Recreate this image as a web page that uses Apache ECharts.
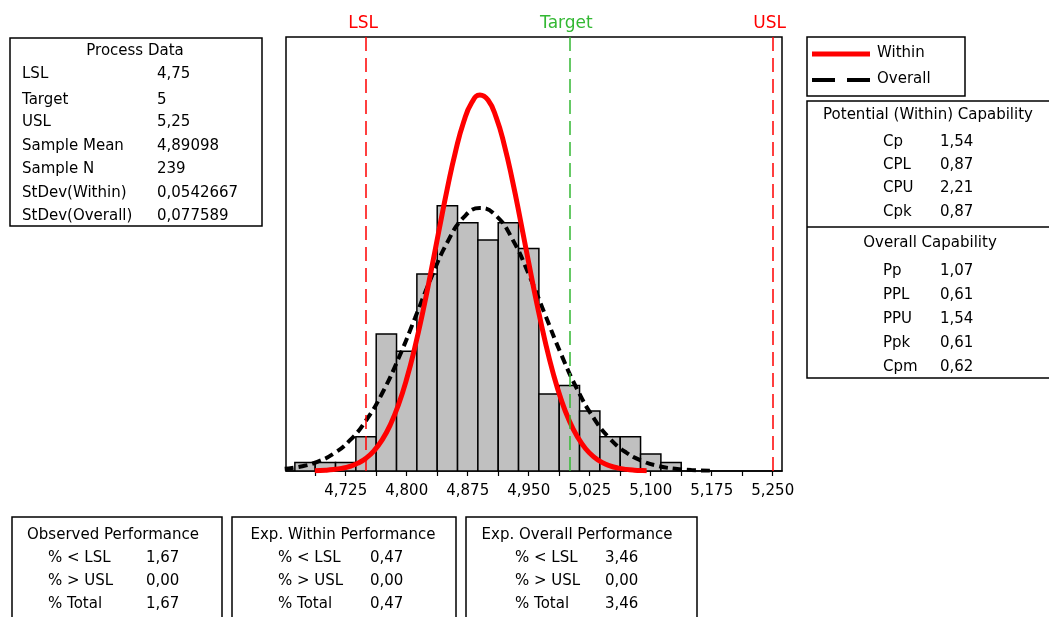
<!DOCTYPE html>
<html>
<head>
<meta charset="utf-8">
<title>Process Capability</title>
<script src="https://cdn.jsdelivr.net/npm/echarts@6/dist/echarts.min.js"></script>
<style>
  html, body { margin: 0; padding: 0; background: #fff; }
  #chart { width: 1049px; height: 617px; }
</style>
</head>
<body>
<div id="chart"></div>
<script>
// histogram: class centers (width 0.025) and counts
const binCenters = [4.675, 4.700, 4.725, 4.750, 4.775, 4.800, 4.825, 4.850, 4.875, 4.900,
                    4.925, 4.950, 4.975, 5.000, 5.025, 5.050, 5.075, 5.100, 5.125];
const binCounts = [1, 1, 1, 4, 16, 14, 23, 31, 29, 27, 29, 26, 9, 10, 7, 4, 4, 2, 1];
const binWidth = 0.025;

// fitted curves (x, count scale)
const withinX = [4.687, 4.70, 4.71, 4.72, 4.73, 4.74, 4.75, 4.76, 4.77, 4.78, 4.79,
                 4.80, 4.81, 4.82, 4.83, 4.84, 4.85, 4.86, 4.87, 4.88, 4.89,
                 4.90, 4.91, 4.92, 4.93, 4.94, 4.95, 4.96, 4.97, 4.98, 4.99,
                 5.00, 5.01, 5.02, 5.03, 5.04, 5.05, 5.06, 5.07, 5.08, 5.09, 5.095];
const withinY = [0.04, 0.09, 0.17, 0.31, 0.54, 0.92, 1.50, 2.39, 3.66, 5.43, 7.78,
                 10.77, 14.43, 18.67, 23.36, 28.26, 33.03, 37.32, 40.77, 43.04, 43.92,
                 43.33, 41.31, 38.08, 33.92, 29.21, 24.32, 19.57, 15.22, 11.44, 8.31,
                 5.84, 3.97, 2.60, 1.65, 1.01, 0.60, 0.34, 0.19, 0.10, 0.05, 0.04];
const overallX = [4.65, 4.67, 4.69, 4.71, 4.73, 4.75, 4.77, 4.79, 4.81, 4.83, 4.85, 4.87, 4.89,
                  4.91, 4.93, 4.95, 4.97, 4.99, 5.01, 5.03, 5.05, 5.07, 5.09, 5.11, 5.13, 5.15, 5.175];
const overallY = [0.25, 0.53, 1.07, 2.02, 3.57, 5.90, 9.11, 13.17, 17.82, 22.56, 26.72, 29.62, 30.72,
                  29.81, 27.07, 23.00, 18.29, 13.61, 9.47, 6.17, 3.76, 2.15, 1.15, 0.57, 0.27, 0.12, 0.04];

// spec limits
const specNames = ["LSL", "Target", "USL"];
const specValues = [4.75, 5, 5.25];
const specColors = ["#ff0000", "#33b833", "#ff0000"];

// x axis ticks
const tickValues = [4.725, 4.800, 4.875, 4.950, 5.025, 5.100, 5.175, 5.250];
const minorTickValues = [4.6875, 4.7625, 4.8375, 4.9125, 4.9875, 5.0625, 5.1375, 5.2125];

// text tables
const processLabels = ["LSL", "Target", "USL", "Sample Mean", "Sample N", "StDev(Within)", "StDev(Overall)"];
const processValues = ["4,75", "5", "5,25", "4,89098", "239", "0,0542667", "0,077589"];
const withinCapLabels = ["Cp", "CPL", "CPU", "Cpk"];
const withinCapValues = ["1,54", "0,87", "2,21", "0,87"];
const overallCapLabels = ["Pp", "PPL", "PPU", "Ppk", "Cpm"];
const overallCapValues = ["1,07", "0,61", "1,54", "0,61", "0,62"];
const perfTitles = ["Observed Performance", "Exp. Within Performance", "Exp. Overall Performance"];
const perfLabels = ["% < LSL", "% > USL", "% Total"];
const perfValues = [
  ["1,67", "0,00", "1,67"],
  ["0,47", "0,00", "0,47"],
  ["3,46", "0,00", "3,46"]
];

const FONT = "DejaVu Sans";

function txt(s, x, y, align, size) {
  return {
    type: "text",
    silent: true,
    style: {
      text: s, x: x, y: y,
      align: align || "left",
      verticalAlign: "middle",
      fontFamily: FONT,
      fontSize: size || 15,
      fill: "#000"
    }
  };
}
function box(x, y, w, h) {
  return {
    type: "rect",
    silent: true,
    shape: { x: x, y: y, width: w, height: h },
    style: { fill: "none", stroke: "#000", lineWidth: 1.5 }
  };
}

let graphics = [];

// process data box
graphics.push(box(10, 38, 252, 188));
graphics.push(txt("Process Data", 135, 51, "center"));
const processYs = [74, 100, 122, 146, 169, 193, 216];
processLabels.forEach((l, i) => {
  graphics.push(txt(l, 22, processYs[i]));
  graphics.push(txt(processValues[i], 157, processYs[i]));
});

// legend
graphics.push(box(807, 37, 158, 59));
graphics.push({
  type: "line", silent: true,
  shape: { x1: 812, y1: 54, x2: 870, y2: 54 },
  style: { stroke: "#ff0000", lineWidth: 5 }
});
graphics.push({
  type: "line", silent: true,
  shape: { x1: 812, y1: 80, x2: 870, y2: 80 },
  style: { stroke: "#000", lineWidth: 4, lineDash: [23, 12] }
});
graphics.push(txt("Within", 877, 53));
graphics.push(txt("Overall", 877, 79));

// capability box
graphics.push(box(807, 101, 260, 277));
graphics.push({
  type: "line", silent: true,
  shape: { x1: 807, y1: 227, x2: 1049, y2: 227 },
  style: { stroke: "#000", lineWidth: 1.5 }
});
graphics.push(txt("Potential (Within) Capability", 928, 115, "center"));
const withinCapYs = [142, 165, 188.5, 212.5];
withinCapLabels.forEach((l, i) => {
  graphics.push(txt(l, 883, withinCapYs[i]));
  graphics.push(txt(withinCapValues[i], 940, withinCapYs[i]));
});
graphics.push(txt("Overall Capability", 930, 243, "center"));
const overallCapYs = [271.5, 295, 319.5, 343, 367.5];
overallCapLabels.forEach((l, i) => {
  graphics.push(txt(l, 883, overallCapYs[i]));
  graphics.push(txt(overallCapValues[i], 940, overallCapYs[i]));
});

// performance boxes
const perfBoxes = [[12, 210], [232, 224], [466, 231]];
const perfTitleX = [113, 343, 577];
const perfLabelX = [48, 278, 515];
const perfValueX = [146, 370, 605];
const perfYs = [558, 581, 604];
perfBoxes.forEach((b, k) => {
  graphics.push(box(b[0], 517, b[1], 120));
  graphics.push(txt(perfTitles[k], perfTitleX[k], 535, "center"));
  perfLabels.forEach((l, i) => {
    graphics.push(txt(l, perfLabelX[k], perfYs[i]));
    graphics.push(txt(perfValues[k][i], perfValueX[k], perfYs[i]));
  });
});

let myChart = echarts.init(document.getElementById("chart"), null, { renderer: "canvas" });
let option = {
  animation: false,
  backgroundColor: "#fff",
  textStyle: { fontFamily: FONT },
  grid: {
    left: 286, top: 37, width: 496, height: 434,
    show: true, borderColor: "#000", borderWidth: 1.5
  },
  xAxis: {
    type: "value",
    min: 4.6516,
    max: 5.2614,
    axisLine: { show: true, lineStyle: { color: "#000", width: 1.5 } },
    axisTick: {
      show: true,
      length: 5,
      lineStyle: { color: "#000", width: 1.2 },
      customValues: tickValues.concat(minorTickValues)
    },
    axisLabel: {
      customValues: tickValues,
      color: "#000",
      fontFamily: FONT,
      fontSize: 15,
      margin: 13,
      formatter: function (v) {
        return v.toFixed(3).replace(".", ",");
      }
    },
    splitLine: { show: false }
  },
  yAxis: {
    type: "value",
    min: 0,
    max: 50.7,
    show: false,
    splitLine: { show: false }
  },
  series: [
    {
      // spec limits, drawn under the bars
      name: "spec",
      type: "line",
      data: [],
      z: 1,
      markLine: {
        silent: true,
        symbol: "none",
        lineStyle: { type: [14, 7], width: 1.5 },
        label: {
          position: "end",
          distance: 5,
          offset: [-3, 0],
          fontFamily: FONT,
          fontSize: 17
        },
        data: specValues.map((v, i) => ({
          xAxis: v,
          lineStyle: { color: specColors[i] },
          label: { formatter: specNames[i], color: specColors[i] }
        }))
      }
    },
    {
      name: "hist",
      type: "custom",
      z: 2,
      clip: true,
      data: binCenters.map((c, i) => [c, binCounts[i]]),
      renderItem: function (params, api) {
        let c = api.value(0);
        let n = api.value(1);
        let p0 = api.coord([c - binWidth / 2, n]);
        let p1 = api.coord([c + binWidth / 2, 0]);
        return {
          type: "rect",
          shape: { x: p0[0], y: p0[1], width: p1[0] - p0[0], height: p1[1] - p0[1] },
          style: { fill: "#c0c0c0", stroke: "#000", lineWidth: 1.5 }
        };
      }
    },
    {
      name: "Overall",
      type: "line",
      z: 3,
      smooth: true,
      showSymbol: false,
      clip: true,
      data: overallX.map((x, i) => [x, overallY[i]]),
      lineStyle: { color: "#000", width: 4, type: [9, 5] }
    },
    {
      name: "Within",
      type: "line",
      z: 4,
      smooth: true,
      showSymbol: false,
      clip: true,
      data: withinX.map((x, i) => [x, withinY[i]]),
      lineStyle: { color: "#ff0000", width: 5 }
    }
  ],
  graphic: graphics
};
myChart.setOption(option);
window.addEventListener("resize", () => {
  myChart.resize();
});
</script>
</body>
</html>
